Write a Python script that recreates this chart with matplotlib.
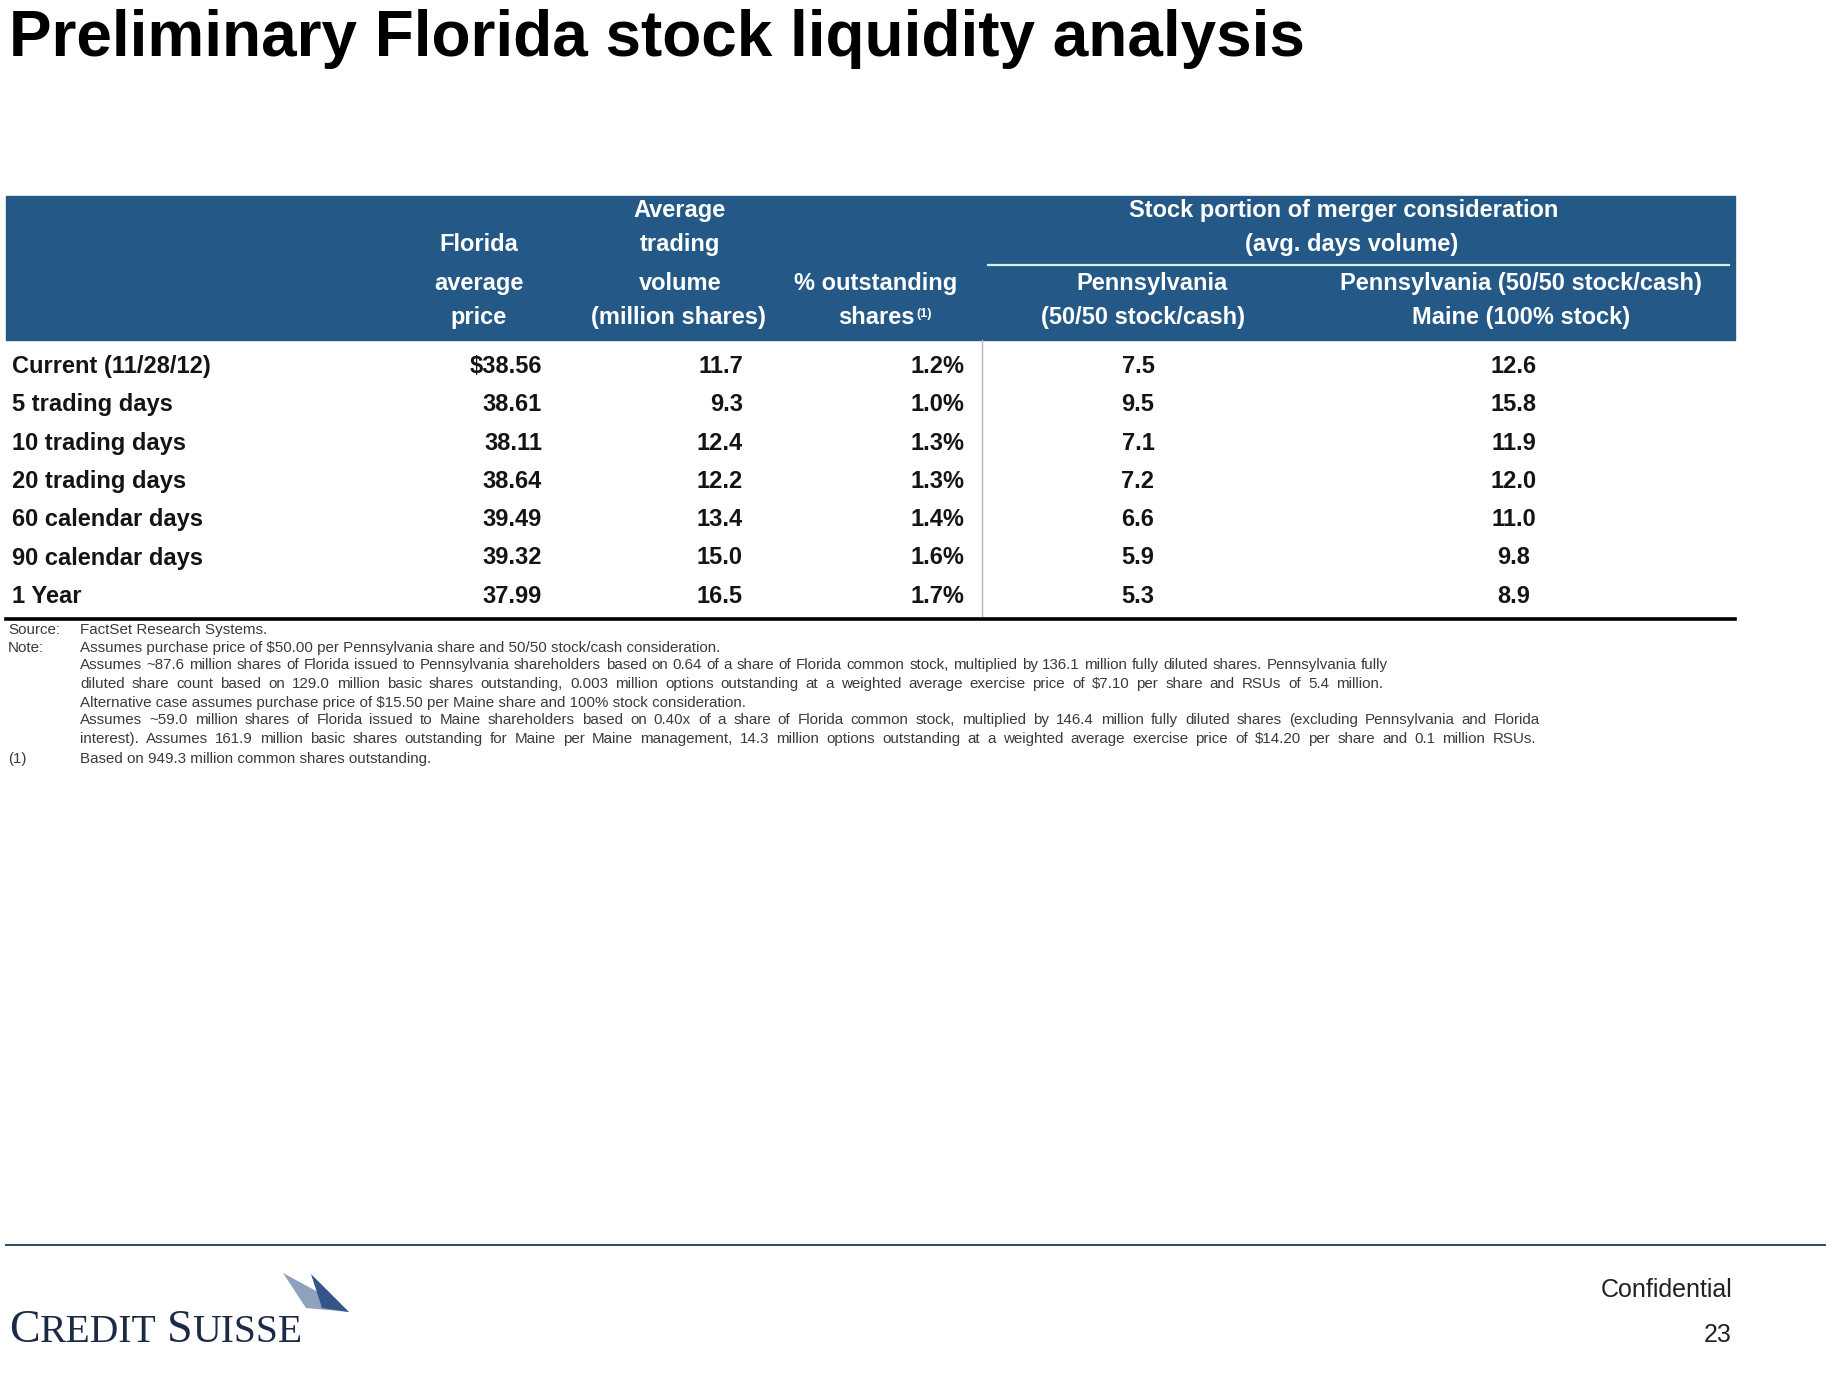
import matplotlib
matplotlib.use("Agg")
import matplotlib.pyplot as plt
from matplotlib.patches import Rectangle, Polygon

plt.rcParams['font.family'] = ['Liberation Sans', 'DejaVu Sans']

#################
### Data ###
#################

title = "Preliminary Florida stock liquidity analysis"

row_labels = ["Current (11/28/12)", "5 trading days", "10 trading days", "20 trading days",
              "60 calendar days", "90 calendar days", "1 Year"]
avg_price = [38.56, 38.61, 38.11, 38.64, 39.49, 39.32, 37.99]
avg_volume = [11.7, 9.3, 12.4, 12.2, 13.4, 15.0, 16.5]
pct_outstanding = [1.2, 1.0, 1.3, 1.3, 1.4, 1.6, 1.7]
days_penn = [7.5, 9.5, 7.1, 7.2, 6.6, 5.9, 5.3]
days_penn_maine = [12.6, 15.8, 11.9, 12.0, 11.0, 9.8, 8.9]

group_header = ["Stock portion of merger consideration", "(avg. days volume)"]

# (label, text, right edge for justified lines or None)
footnotes = [
    ("Source:", "FactSet Research Systems.", None),
    ("Note:", "Assumes purchase price of $50.00 per Pennsylvania share and 50/50 stock/cash consideration.", None),
    ("", "Assumes ~87.6 million shares of Florida issued to Pennsylvania shareholders based on 0.64 of a share of Florida common stock, multiplied by 136.1 million fully diluted shares.  Pennsylvania fully", 1388),
    ("", "diluted share count  based on 129.0 million basic shares outstanding,  0.003 million options outstanding  at a weighted average  exercise price of $7.10  per share  and RSUs of 5.4 million.", 1383),
    ("", "Alternative case assumes purchase price of $15.50 per Maine share and 100% stock consideration.", None),
    ("", "Assumes ~59.0 million shares of Florida issued to Maine shareholders  based on 0.40x of a share of Florida common stock, multiplied by 146.4 million fully diluted shares (excluding Pennsylvania  and Florida", 1540),
    ("", "interest). Assumes 161.9 million basic shares outstanding  for Maine per Maine management,  14.3 million options outstanding  at a weighted average exercise price of $14.20 per share and 0.1 million RSUs.", 1536),
    ("(1)", "Based on 949.3 million common shares outstanding.", None),
]

###############
### Layout ###
###############

W, H = 1837, 1395
band_color = "#245887"
text_color = "#141414"
note_color = "#3a3a3a"
note_size = 10.9

fig = plt.figure(figsize=(W / 100, H / 100), dpi=100)
ax = fig.add_axes([0, 0, 1, 1])
ax.set_xlim(0, W)
ax.set_ylim(H, 0)
ax.axis("off")
renderer = fig.canvas.get_renderer()

# title
ax.text(9, 56, title, fontsize=46, fontweight="bold", color="#000000", va="baseline")

# header band
ax.add_patch(Rectangle((6, 196), 1729, 144, color=band_color, zorder=1))
ax.plot([988, 1729], [265, 265], color="#dce8f3", lw=1.6, zorder=2)

hdr = dict(fontsize=17, fontweight="bold", color="white", ha="center", va="baseline", zorder=3)
hb = [217, 251, 290, 324]  # header baselines
ax.text(479, hb[1], "Florida", **hdr)
ax.text(479, hb[2], "average", **hdr)
ax.text(479, hb[3], "price", **hdr)
ax.text(680, hb[0], "Average", **hdr)
ax.text(680, hb[1], "trading", **hdr)
ax.text(680, hb[2], "volume", **hdr)
ax.text(678, hb[3], "(million shares)", **hdr)
ax.text(876, hb[2], "% outstanding", **hdr)
ax.text(915, hb[3], "shares", **{**hdr, "ha": "right"})
ax.text(916, hb[3] - 7, "(1)", fontsize=9, fontweight="bold", color="white", va="baseline", zorder=3)
ax.text(1344, hb[0], group_header[0], **hdr)
ax.text(1352, hb[1], group_header[1], **hdr)
ax.text(1152, hb[2], "Pennsylvania", **hdr)
ax.text(1143, hb[3], "(50/50 stock/cash)", **hdr)
ax.text(1521, hb[2], "Pennsylvania (50/50 stock/cash)", **hdr)
ax.text(1521, hb[3], "Maine (100% stock)", **hdr)

# body rows
body = dict(fontsize=17, fontweight="bold", color=text_color, va="baseline")
for i, label in enumerate(row_labels):
    y = 373 + 38.3 * i
    ax.text(12, y, label, ha="left", **body)
    price = f"${avg_price[i]:.2f}" if i == 0 else f"{avg_price[i]:.2f}"
    ax.text(542, y, price, ha="right", **body)
    ax.text(743, y, f"{avg_volume[i]:.1f}", ha="right", **body)
    ax.text(964, y, f"{pct_outstanding[i]:.1f}%", ha="right", **body)
    ax.text(1138, y, f"{days_penn[i]:.1f}", ha="center", **body)
    ax.text(1514, y, f"{days_penn_maine[i]:.1f}", ha="center", **body)

ax.plot([982, 982], [340, 617], color="#b8b8b8", lw=1)
ax.plot([6, 1735], [619, 619], color="#000000", lw=2.6)


def justified(x0, x1, y, txt):
    # spread words so the line fills x0..x1
    words = txt.split()
    objs = [ax.text(0, y, w, fontsize=note_size, color=note_color, va="baseline") for w in words]
    widths = [o.get_window_extent(renderer).width for o in objs]
    gap = (x1 - x0 - sum(widths)) / (len(words) - 1)
    x = x0
    for o, w in zip(objs, widths):
        o.set_x(x)
        x += w + gap


# footnotes
fy = [634, 652, 669, 688, 707, 724, 743, 763]
for (lab, txt, right), y in zip(footnotes, fy):
    if lab:
        ax.text(8, y, lab, fontsize=note_size, color=note_color, va="baseline")
    if right is None:
        ax.text(80, y, txt, fontsize=note_size, color=note_color, va="baseline")
    else:
        justified(80, right, y, txt)

# footer
ax.plot([6, 1825], [1245, 1245], color="#34495e", lw=1.4)
ax.text(1732, 1297, "Confidential", fontsize=18, color="#222222", ha="right", va="baseline")
ax.text(1732, 1342, "23", fontsize=18, color="#222222", ha="right", va="baseline")

# logo text in small caps
x = 9
for s, size in [("C", 33), ("REDIT", 28.5), (" ", 0), ("S", 33), ("UISSE", 28.5)]:
    if s == " ":
        x += 10
        continue
    t = ax.text(x, 1342, s, fontsize=size, family="Liberation Serif", color="#1c2b45", va="baseline")
    x += t.get_window_extent(renderer).width

# logo sails
ax.add_patch(Polygon([(283, 1273), (318, 1292), (349, 1312), (306, 1308)], closed=True,
                     color="#8ea2bb", lw=0))
ax.add_patch(Polygon([(311, 1274), (349, 1312), (322, 1308)], closed=True,
                     color="#34548a", lw=0))

fig.savefig("out.png", dpi=100)
